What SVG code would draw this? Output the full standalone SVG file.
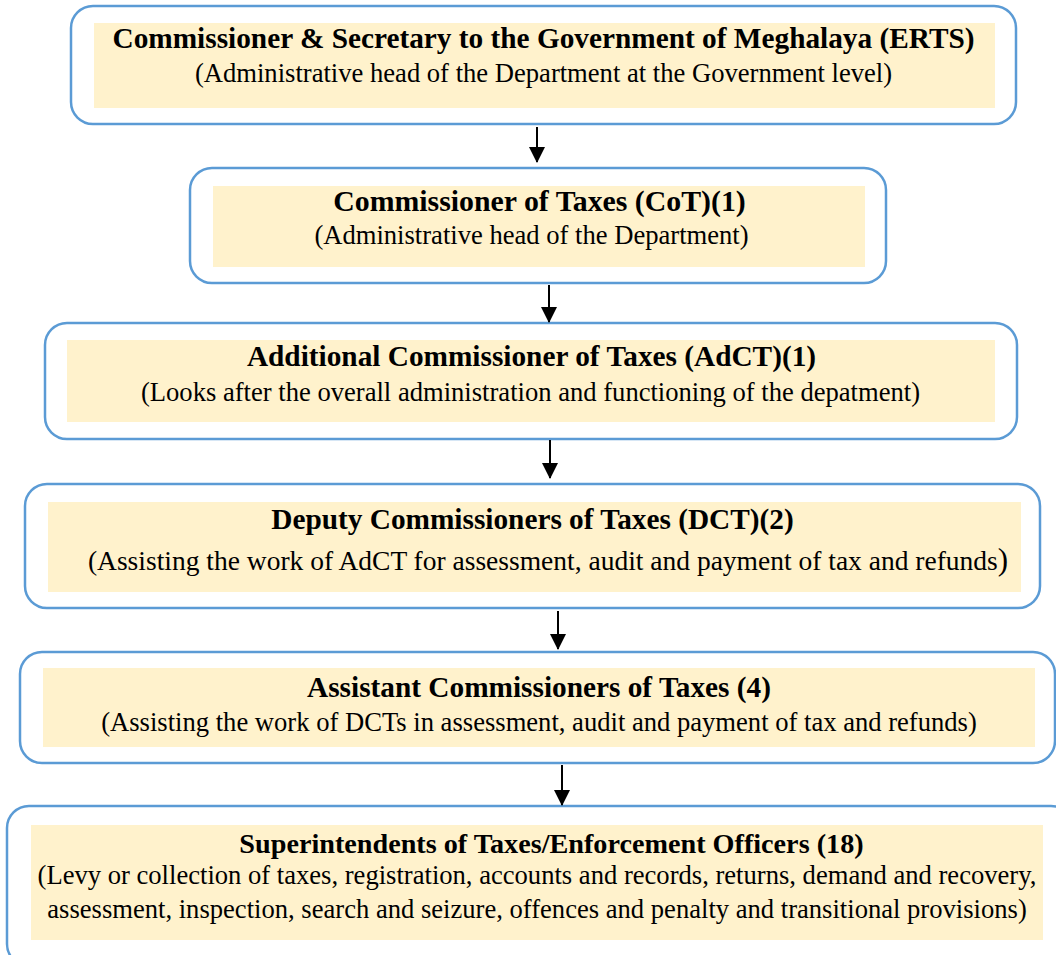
<svg xmlns="http://www.w3.org/2000/svg" width="1056" height="955" viewBox="0 0 1056 955">
<defs>
<marker id="ah" markerWidth="16" markerHeight="16" refX="15" refY="8" orient="auto" markerUnits="userSpaceOnUse" viewBox="0 0 16 16">
<path d="M0,0 L16,8 L0,16 Z" fill="#000"/>
</marker>
<style>
.outer{fill:#fff;stroke:#5B9BD5;stroke-width:2.5}
.inner{fill:#FFF2CC;stroke:none}
text{font-family:'Liberation Serif',Tinos,'Times New Roman','DejaVu Serif',serif;fill:#000;text-anchor:middle}
.t{font-weight:bold;font-size:29.3px}
.s{font-size:26.6px}
.c{stroke:#000;stroke-width:2;fill:none}
</style>
</defs>
<rect width="1056" height="955" fill="#fff"/>
<g id="n1">
<rect class="outer" x="71" y="6" width="945" height="118" rx="22"/>
<rect class="inner" x="94" y="23" width="901" height="85"/>
<text class="t" x="543.5" y="48">Commissioner &amp; Secretary to the Government of Meghalaya (ERTS)</text>
<text class="s" x="543.5" y="82">(Administrative head of the Department at the Government level)</text>
</g>
<g id="n2">
<rect class="outer" x="190" y="168" width="696" height="115" rx="22"/>
<rect class="inner" x="213" y="186" width="652" height="81"/>
<text class="t" x="539.5" y="211" style="font-size:29.8px">Commissioner of Taxes (CoT)(1)</text>
<text class="s" x="531.5" y="244">(Administrative head of the Department)</text>
</g>
<g id="n3">
<rect class="outer" x="45" y="323" width="972" height="116" rx="22"/>
<rect class="inner" x="67" y="340" width="928" height="82"/>
<text class="t" x="531.5" y="366">Additional Commissioner of Taxes (AdCT)(1)</text>
<text class="s" x="530.5" y="401">(Looks after the overall administration and functioning of the depatment)</text>
</g>
<g id="n4">
<rect class="outer" x="25" y="484" width="1015" height="124" rx="22"/>
<rect class="inner" x="48" y="502" width="973" height="90"/>
<text class="t" x="532.5" y="529">Deputy Commissioners of Taxes (DCT)(2)</text>
<text class="s" x="548" y="570" style="font-size:27.5px">(Assisting the work of AdCT for assessment, audit and payment of tax and refunds<tspan style="font-size:31px">)</tspan></text>
</g>
<g id="n5">
<rect class="outer" x="20" y="652" width="1035" height="111" rx="22"/>
<rect class="inner" x="43" y="668" width="992" height="79"/>
<text class="t" x="539" y="697">Assistant Commissioners of Taxes (4)</text>
<text class="s" x="539" y="731">(Assisting the work of DCTs in assessment, audit and payment of tax and refunds)</text>
</g>
<g id="n6">
<rect class="outer" x="7" y="806" width="1066" height="160" rx="22"/>
<rect class="inner" x="31" y="825" width="1012" height="115"/>
<text class="t" x="551.5" y="853" style="font-size:28.2px">Superintendents of Taxes/Enforcement Officers (18)</text>
<text class="s" x="537" y="884">(Levy or collection of taxes, registration, accounts and records, returns, demand and recovery,</text>
<text class="s" x="537" y="918">assessment, inspection, search and seizure, offences and penalty and transitional provisions)</text>
</g>
<g id="connectors">
<line class="c" x1="537" y1="127" x2="537" y2="162" marker-end="url(#ah)"/>
<line class="c" x1="549" y1="285" x2="549" y2="322" marker-end="url(#ah)"/>
<line class="c" x1="550" y1="440" x2="550" y2="478" marker-end="url(#ah)"/>
<line class="c" x1="558" y1="611" x2="558" y2="649" marker-end="url(#ah)"/>
<line class="c" x1="562" y1="765" x2="562" y2="805" marker-end="url(#ah)"/>
</g>
</svg>
